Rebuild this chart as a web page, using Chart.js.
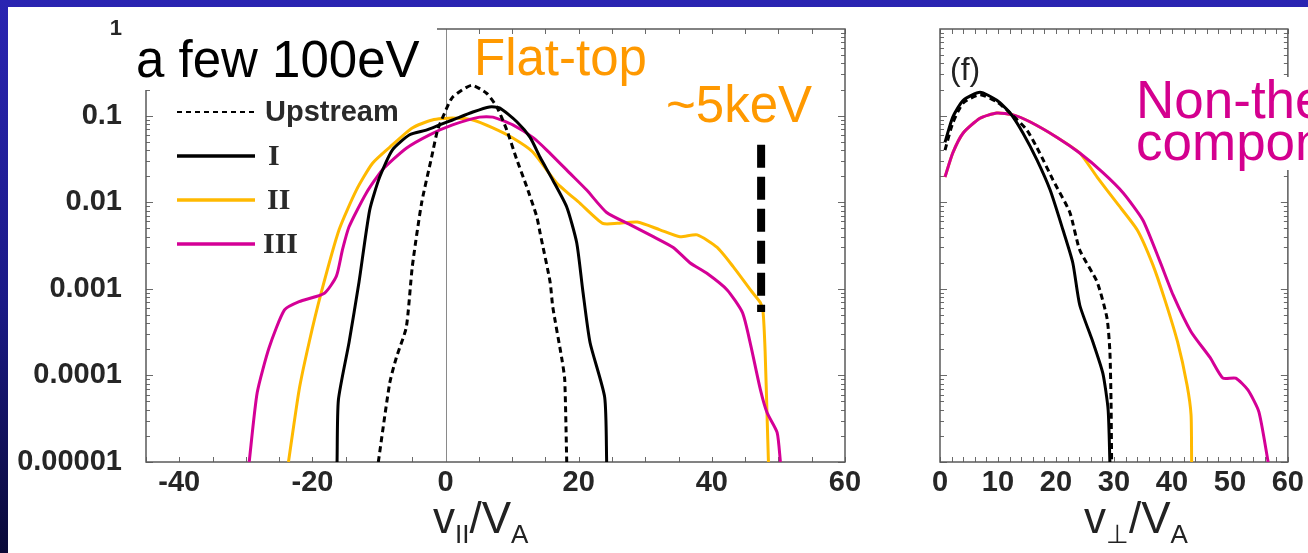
<!DOCTYPE html>
<html>
<head>
<meta charset="utf-8">
<script src="https://cdn.jsdelivr.net/npm/chart.js@4.4.0/dist/chart.umd.min.js"></script>
<style>
html, body { margin: 0; padding: 0; }
body {
    width: 1308px; height: 553px; overflow: hidden; position: relative;
    background: linear-gradient(to bottom, #2a24b2 0%, #1b1a86 55%, #0a0a38 100%);
    font-family: 'Liberation Sans', Arial, Helvetica, sans-serif;
}
#sheet { position: absolute; left: 8px; top: 7px; right: 0; bottom: 0; background: #fff; }
canvas { position: absolute; top: 0; }
#cPar { left: 0; }
#cPerp { left: 880px; }
.note { position: absolute; white-space: nowrap; }
.mask { position: absolute; background: #fff; }
.axt { position: absolute; font-size: 44px; line-height: 44px; color: #222; white-space: nowrap; }
.axt sub { font-size: 26px; vertical-align: -10px; }
</style>
</head>
<body>
<div id="sheet"></div>
<canvas id="cPar" width="880" height="553"></canvas>
<canvas id="cPerp" width="428" height="553"></canvas>

<!-- text boxes of the slide (white fill) -->
<div class="mask" style="left:133px;top:20px;width:304px;height:70px;"></div>
<div class="note" style="left:136px;top:34px;font-size:51px;line-height:51px;color:#000;">a few 100eV</div>
<div class="note" style="left:474px;top:32px;font-size:51px;line-height:51px;color:#ff9900;">Flat-top</div>
<div class="note" style="left:666px;top:79px;font-size:51px;line-height:51px;color:#ff9900;">~5keV</div>
<div class="mask" style="left:1135px;top:77px;width:173px;height:93px;"></div>
<div class="note" style="left:1136px;top:73px;font-size:53px;line-height:53px;color:#d4008f;">Non-thermal</div>
<div class="note" style="left:1136px;top:115px;font-size:53px;line-height:53px;color:#d4008f;">component</div>
<div class="note" style="left:950px;top:53px;font-size:32px;line-height:32px;color:#222;">(f)</div>

<div class="axt" style="left:433px;top:496px;">v<sub>II</sub>/V<sub>A</sub></div>
<div class="axt" style="left:1084px;top:496px;">v<sub>&perp;</sub>/V<sub>A</sub></div>

<script>
// ---- data ----
// left panel: f(v_par)
const upParX   = [-10.1, -8.4, -7.4, -5.9, -5.0, -3.6, -2.1, -1.2, -0.15, 1.05, 3.9, 6.2, 7.7, 9.2, 10.7, 12.2, 13.7, 14.2, 15.7, 16.1, 17.5, 17.9, 18.2];
const upParY   = [1e-5, 8.1e-5, 1.6e-4, 3.6e-4, 1.8e-3, 9.8e-3, 0.033, 0.068, 0.107, 0.163, 0.224, 0.18, 0.126, 0.068, 0.031, 0.015, 0.0068, 0.0044, 0.0012, 6.2e-4, 1.5e-4, 8.9e-5, 1e-5];

const iParX    = [-16.3, -16.1, -14.5, -13.0, -11.4, -9.9, -8.0, -5.4, -2.9, -0.9, 1.05, 4.1, 6.6, 8.1, 10.7, 12.7, 14.2, 16.1, 18.2, 19.7, 20.6, 21.7, 23.9, 24.2];
const iParY    = [1e-5, 5.2e-5, 2.4e-4, 1.2e-3, 8.1e-3, 0.0195, 0.040, 0.060, 0.068, 0.078, 0.089, 0.110, 0.126, 0.123, 0.085, 0.056, 0.033, 0.018, 0.0088, 0.0034, 9.7e-4, 2.4e-4, 5.6e-5, 1e-5];

const iiParX   = [-23.6, -22.0, -20.5, -18.7, -16.0, -13.4, -11.0, -8.4, -5.0, -2.0, 1.05, 4.1, 7.1, 10.1, 13.1, 16.7, 20.2, 23.6, 25.8, 28.8, 32.2, 35.2, 37.8, 40.8, 43.2, 45.8, 47.3, 47.7, 48.0, 48.3, 48.5];
const iiParY   = [1e-5, 6.8e-5, 2.4e-4, 8.9e-4, 4.8e-3, 0.0138, 0.028, 0.043, 0.072, 0.089, 0.094, 0.089, 0.072, 0.055, 0.038, 0.0167, 0.0097, 0.0057, 0.0057, 0.0059, 0.0048, 0.0040, 0.0042, 0.0030, 0.0018, 9.7e-4, 6.9e-4, 5.3e-4, 1.9e-4, 3.3e-5, 1e-5];

const iiiParX  = [-29.5, -28.3, -26.5, -24.2, -22.0, -18.2, -16.4, -15.5, -14.5, -11.9, -9.5, -5.9, -2.4, 1.05, 5.1, 7.1, 10.1, 13.1, 15.2, 18.7, 21.2, 24.2, 27.7, 31.2, 34.2, 36.7, 39.3, 42.3, 44.6, 45.8, 47.3, 48.3, 49.8, 50.3];
const iiiParY  = [1e-5, 6.3e-5, 2.1e-4, 5.7e-4, 7.1e-4, 8.9e-4, 1.4e-3, 2.8e-3, 5.2e-3, 0.0128, 0.0236, 0.042, 0.060, 0.078, 0.096, 0.096, 0.078, 0.056, 0.040, 0.0215, 0.0138, 0.0076, 0.0055, 0.0040, 0.0030, 0.0020, 0.0015, 9.7e-4, 5.3e-4, 2.3e-4, 6.8e-5, 3.7e-5, 2.2e-5, 1e-5];

// thick dashed marker at ~5keV
const markX = [47.4, 47.4];
const markY = [0.046, 0.00054];

// right panel: f(v_perp)
const upPerpX  = [0.86, 2.2, 4.0, 6.9, 9.8, 12.1, 15.0, 17.2, 19.5, 22.4, 24.1, 27.1, 28.8, 29.3, 29.5, 29.6];
const upPerpY  = [0.040, 0.082, 0.14, 0.174, 0.144, 0.107, 0.068, 0.037, 0.018, 0.0076, 0.0028, 1.2e-3, 4.6e-4, 1.9e-4, 5e-5, 1e-5];

const iPerpX   = [0.86, 2.2, 4.0, 6.9, 9.8, 12.1, 14.3, 16.7, 19.0, 21.2, 22.9, 24.1, 26.4, 28.1, 29.0, 29.3];
const iPerpY   = [0.049, 0.096, 0.15, 0.186, 0.15, 0.107, 0.063, 0.031, 0.0138, 0.0048, 0.0020, 6.5e-4, 2.4e-4, 1.05e-4, 4e-5, 1e-5];

const iiPerpX  = [0.86, 2.2, 4.0, 6.9, 9.8, 12.6, 15.5, 20.2, 24.1, 27.1, 30.5, 34.0, 36.7, 38.8, 41.0, 42.6, 43.3, 43.4];
const iiPerpY  = [0.0195, 0.037, 0.063, 0.093, 0.107, 0.102, 0.085, 0.056, 0.037, 0.0195, 0.0098, 0.0048, 0.0019, 7.4e-4, 2.4e-4, 7.8e-5, 3.5e-5, 1e-5];

const iiiPerpX = [0.86, 2.2, 4.0, 6.9, 9.8, 12.6, 15.5, 20.2, 24.1, 28.1, 31.6, 35.0, 37.9, 40.2, 43.3, 46.6, 48.8, 51.0, 53.1, 55.0, 56.6];
const iiiPerpY = [0.0195, 0.037, 0.063, 0.093, 0.107, 0.102, 0.085, 0.056, 0.037, 0.022, 0.0128, 0.0062, 0.0021, 8.5e-4, 3.2e-4, 1.6e-4, 9.3e-5, 9.3e-5, 6.8e-5, 3.8e-5, 1e-5];

// ticks
const yTicks       = [1e-5, 1e-4, 1e-3, 1e-2, 0.1, 1];
const yTickLabels  = ['0.00001', '0.0001', '0.001', '0.01', '0.1', '1'];
const parXTicks    = [-40, -20, 0, 20, 40, 60];
const parXLabels   = ['-40', '-20', '0', '20', '40', '60'];
const perpXTicks   = [0, 10, 20, 30, 40, 50, 60];
const perpXLabels  = ['0', '10', '20', '30', '40', '50', '60'];

const BLACK = '#000000';
const YELLOW = '#ffb900';
const MAGENTA = '#d40096';
const FONT = "'Liberation Sans', Arial, Helvetica, sans-serif";
const SERIF = "'Liberation Serif', 'DejaVu Serif', serif";

function pts(xs, ys) {
    return xs.map((x, i) => ({ x: x, y: ys[i] }));
}

// frame, inward tick marks and the v=0 line
const frameTicks = {
    id: 'frameTicks',
    beforeDatasetsDraw(chart, args, opts) {
        const { ctx, chartArea: a, scales: { x, y } } = chart;
        ctx.save();
        ctx.strokeStyle = '#6a6a6a';
        ctx.lineWidth = 1;
        const line = (x1, y1, x2, y2) => { ctx.beginPath(); ctx.moveTo(x1, y1); ctx.lineTo(x2, y2); ctx.stroke(); };
        const first = Math.ceil(x.min / opts.xStep) * opts.xStep;
        for (let v = first; v <= x.max + 1e-9; v += opts.xStep) {
            const px = Math.round(x.getPixelForValue(v)) + 0.5;
            line(px, a.bottom, px, a.bottom - 5);
            line(px, a.top, px, a.top + 5);
        }
        for (let d = -5; d < 0; d++) {
            for (let m = 1; m <= 9; m++) {
                const py = Math.round(y.getPixelForValue(m * Math.pow(10, d))) + 0.5;
                const len = m === 1 ? 7 : 4;
                line(a.left, py, a.left + len, py);
                line(a.right, py, a.right - len, py);
            }
        }
        if (opts.zeroLine) {
            const px = Math.round(x.getPixelForValue(0)) + 0.5;
            ctx.strokeStyle = '#8a8a8a';
            line(px, a.top, px, a.bottom);
        }
        ctx.strokeStyle = '#5a5a5a';
        ctx.lineWidth = 1.5;
        ctx.strokeRect(a.left, a.top, a.right - a.left, a.bottom - a.top);
        ctx.restore();
    }
};

// legend drawn from the datasets, placed inside the left panel
const lineLegend = {
    id: 'lineLegend',
    afterDatasetsDraw(chart, args, opts) {
        if (!opts.display) return;
        const ctx = chart.ctx;
        let yy = opts.y;
        chart.data.datasets.forEach(ds => {
            if (!ds.legendFont) return;
            ctx.save();
            ctx.strokeStyle = ds.borderColor;
            ctx.lineWidth = ds.legendWidth;
            ctx.setLineDash(ds.legendDash || []);
            ctx.beginPath();
            ctx.moveTo(opts.x, yy);
            ctx.lineTo(opts.x + opts.len, yy);
            ctx.stroke();
            ctx.setLineDash([]);
            ctx.fillStyle = '#2a2a2a';
            ctx.font = ds.legendFont;
            ctx.textBaseline = 'middle';
            ctx.fillText(ds.label, opts.x + opts.len + ds.legendGap, yy + 1);
            ctx.restore();
            yy += opts.gap;
        });
    }
};

function makeDatasets(up, one, two, three) {
    return [
        { label: 'Upstream', data: up, borderColor: BLACK, borderDash: [6, 4], borderWidth: 3, order: 0,
          legendFont: "bold 29px " + FONT, legendWidth: 2, legendDash: [5, 4], legendGap: 10 },
        { label: 'I', data: one, borderColor: BLACK, borderWidth: 3, order: 1,
          legendFont: "bold 30px " + SERIF, legendWidth: 3.5, legendGap: 13 },
        { label: 'II', data: two, borderColor: YELLOW, borderWidth: 3, order: 3,
          legendFont: "bold 30px " + SERIF, legendWidth: 3.5, legendGap: 12 },
        { label: 'III', data: three, borderColor: MAGENTA, borderWidth: 3, order: 2,
          legendFont: "bold 30px " + SERIF, legendWidth: 3.5, legendGap: 8 }
    ];
}

function yAxis(width, showLabels) {
    return {
        type: 'logarithmic', min: 1e-5, max: 1,
        grid: { display: false, drawTicks: false }, border: { display: false },
        afterBuildTicks: s => { s.ticks = yTicks.map(v => ({ value: v })); },
        afterFit: s => { s.width = width; s.paddingTop = 0; s.paddingBottom = 0; },
        ticks: {
            display: showLabels, padding: 24, color: '#262626',
            font: c => ({ family: FONT, size: (c.tick && c.tick.value === 1) ? 22 : 29, weight: 'bold' }),
            callback: (v, i) => yTickLabels[i]
        }
    };
}

function xAxis(min, max, tickVals, tickLabels) {
    return {
        type: 'linear', min: min, max: max,
        grid: { display: false, drawTicks: false }, border: { display: false },
        afterBuildTicks: s => { s.ticks = tickVals.map(v => ({ value: v })); },
        afterFit: s => { s.height = 91; },
        ticks: {
            autoSkip: false, maxRotation: 0, padding: 4, color: '#262626',
            font: { family: FONT, size: 29, weight: 'bold' },
            callback: (v, i) => tickLabels[i]
        }
    };
}

const common = {
    responsive: false,
    animation: false,
    events: [],
    elements: { point: { radius: 0 }, line: { tension: 0.2, fill: false } }
};

const parSets = makeDatasets(pts(upParX, upParY), pts(iParX, iParY), pts(iiParX, iiParY), pts(iiiParX, iiiParY));
parSets.push({ label: 'marker', data: pts(markX, markY), borderColor: BLACK, borderWidth: 8,
               borderDash: [23, 9], tension: 0, order: -1 });

new Chart(document.getElementById('cPar'), {
    type: 'line',
    data: { datasets: parSets },
    options: Object.assign({}, common, {
        layout: { padding: { left: 0, right: 35, top: 29, bottom: 0 } },
        scales: { x: xAxis(-45, 60, parXTicks, parXLabels), y: yAxis(146, true) },
        plugins: {
            legend: { display: false }, tooltip: { enabled: false },
            frameTicks: { xStep: 5, zeroLine: true },
            lineLegend: { display: true, x: 177, y: 112, len: 78, gap: 44 }
        }
    }),
    plugins: [frameTicks, lineLegend]
});

new Chart(document.getElementById('cPerp'), {
    type: 'line',
    data: { datasets: makeDatasets(pts(upPerpX, upPerpY), pts(iPerpX, iPerpY), pts(iiPerpX, iiPerpY), pts(iiiPerpX, iiiPerpY)) },
    options: Object.assign({}, common, {
        layout: { padding: { left: 0, right: 20, top: 29, bottom: 0 } },
        scales: { x: xAxis(0, 60, perpXTicks, perpXLabels), y: yAxis(60, false) },
        plugins: {
            legend: { display: false }, tooltip: { enabled: false },
            frameTicks: { xStep: 2, zeroLine: false },
            lineLegend: { display: false }
        }
    }),
    plugins: [frameTicks, lineLegend]
});
</script>
</body>
</html>
